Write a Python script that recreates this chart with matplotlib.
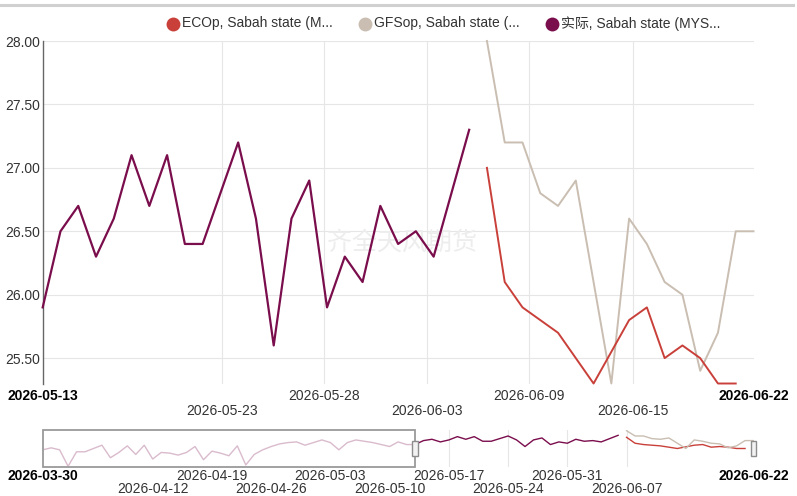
"""Sabah state palm-oil chart: actual vs ECOp / GFSop forecasts, with navigator strip."""
import matplotlib
matplotlib.use("Agg")
import matplotlib.pyplot as plt
from matplotlib.lines import Line2D
from matplotlib.patches import Rectangle
import numpy as np

plt.rcParams["font.family"] = ["Liberation Sans", "Noto Sans CJK SC", "DejaVu Sans"]

# ── data ─────────────────────────────────────────────────────────────────────
# daily values, navigator starts 2026-03-30 (day 0); main view is day 44..84
nav_start = "2026-03-30"
view_start_day = 44
view_days = 40

actual = [25.1, 25.4, 25.1, 22.6, 24.8, 24.8, 25.3, 25.8, 23.9, 24.7,
          25.7, 24.4, 25.8, 23.7, 24.7, 24.6, 24.3, 24.7, 25.6, 23.6,
          24.9, 24.6, 24.2, 25.7, 22.8, 24.4, 25.1, 25.6, 26.0, 26.2,
          26.3, 25.8, 26.2, 26.6, 26.2, 25.1, 26.2, 26.6, 26.4, 26.2,
          25.9, 25.6, 26.3, 25.9,
          # 2026-05-13 .. 2026-06-06
          25.9, 26.5, 26.7, 26.3, 26.6, 27.1, 26.7, 27.1, 26.4, 26.4,
          26.8, 27.2, 26.6, 25.6, 26.6, 26.9, 25.9, 26.3, 26.1, 26.7,
          26.4, 26.5, 26.3, 26.8, 27.3]
# forecasts start 2026-06-07 (day 69)
fc_start_day = 69
ecop = [27.0, 26.1, 25.9, 25.8, 25.7, 25.5, 25.3, 25.55, 25.8, 25.9,
        25.5, 25.6, 25.5, 25.3, 25.3]
gfsop = [28.0, 27.2, 27.2, 26.8, 26.7, 26.9, 26.1, 25.3, 26.6, 26.4,
         26.1, 26.0, 25.4, 25.7, 26.5, 26.5]

series_names = ["ECOp, Sabah state (M...", "GFSop, Sabah state (...",
                "实际, Sabah state (MYS..."]
series_colors = ["#c9403a", "#c9beb1", "#7a0d4c"]

y_ticks = [25.5, 26.0, 26.5, 27.0, 27.5, 28.0]
y_range = (25.3, 28.0)

# main x labels (bold ones sit at the view edges); Highcharts ordinal spacing
main_tick_labels = ["2026-05-23", "2026-05-28", "2026-06-03", "2026-06-09", "2026-06-15"]
main_tick_pos = [10.07, 15.85, 21.63, 27.39, 33.2]
main_edge_labels = ["2026-05-13", "2026-06-22"]

nav_tick_labels = ["2026-04-12", "2026-04-19", "2026-04-26", "2026-05-03", "2026-05-10",
                   "2026-05-17", "2026-05-24", "2026-05-31", "2026-06-07"]
nav_tick_days = [13, 20, 27, 34, 41, 48, 55, 62, 69]
nav_edge_labels = ["2026-03-30", "2026-06-22"]

W, H = 797, 496
fig = plt.figure(figsize=(W / 100, H / 100), dpi=100)
fig.patch.set_facecolor("white")


def px_rect(x0, y0, x1, y1):
    return [x0 / W, 1 - y1 / H, (x1 - x0) / W, (y1 - y0) / H]


act = np.array(actual)
days_act = np.arange(len(act))
days_ec = fc_start_day + np.arange(len(ecop))
days_gfs = fc_start_day + np.arange(len(gfsop))

# ── main panel ──────────────────────────────────────────────────────────────
ax = fig.add_axes(px_rect(42.7, 41, 753.5, 383.5))
ax.set_xlim(0, view_days)
ax.set_ylim(*y_range)
for s in ["top", "right", "bottom"]:
    ax.spines[s].set_visible(False)
ax.spines["left"].set_color("#666666")
ax.spines["left"].set_linewidth(1.0)

ax.set_yticks(y_ticks)
ax.set_yticklabels([f"{v:.2f}" for v in y_ticks], fontsize=10, color="#333333")
ax.tick_params(axis="y", length=0, pad=2)
ax.set_xticks(main_tick_pos)
ax.set_xticklabels([])
ax.tick_params(axis="x", length=0)
ax.grid(True, color="#e6e6e6", lw=0.8)
ax.set_axisbelow(True)

lw = 1.4
ax.plot(days_act[view_start_day:] - view_start_day, act[view_start_day:],
        color=series_colors[2], lw=1.6, clip_on=False, zorder=3)
ax.plot(days_ec - view_start_day, ecop, color=series_colors[0], lw=lw,
        clip_on=False, zorder=3)
ax.plot(days_gfs - view_start_day, gfsop, color=series_colors[1], lw=lw,
        clip_on=False, zorder=2)

ax.text(0.505, 0.41, "齐全天风期货", transform=ax.transAxes, fontsize=18,
        color="#ededed", ha="center", va="center", zorder=1)

xt = ax.get_xaxis_transform()
for i, (pos, lab) in enumerate(zip(main_tick_pos, main_tick_labels)):
    off = -19.8 if i % 2 == 0 else -9.0
    ax.annotate(lab, (pos, 0), xycoords=xt, xytext=(0, off), textcoords="offset points",
                ha="center", va="center", fontsize=10, color="#333333")
for pos, lab in zip([0, view_days], main_edge_labels):
    ax.annotate(lab, (pos, 0), xycoords=xt, xytext=(0, -9.0), textcoords="offset points",
                ha="center", va="center", fontsize=10, color="black", fontweight="bold")

# ── navigator ───────────────────────────────────────────────────────────────
nav_days = days_gfs[-1]
nav = fig.add_axes(px_rect(42.7, 430, 753.5, 467))
all_vals = np.concatenate([act, ecop, gfsop])
span = all_vals.max() - all_vals.min()
nav.set_xlim(0, nav_days)
nav.set_ylim(all_vals.min() - 0.02 * span, all_vals.max() + 0.02 * span)
for s in nav.spines.values():
    s.set_visible(False)
nav.set_yticks([])
nav.set_xticks([])
# grid only shows outside the masked (left) zone
for d in nav_tick_days:
    if d > view_start_day:
        nav.axvline(d, color="#e6e6e6", lw=0.8, zorder=1)

nlw = 1.0
nav.plot(days_act, act, color=series_colors[2], lw=nlw, zorder=2)
nav.plot(days_ec, ecop, color=series_colors[0], lw=nlw, zorder=2)
nav.plot(days_gfs, gfsop, color=series_colors[1], lw=nlw, zorder=2)

bt = nav.get_xaxis_transform()
nav.add_patch(Rectangle((0, 0), view_start_day, 1, transform=bt, facecolor="white",
                        alpha=0.72, edgecolor="none", zorder=3))
nav.add_patch(Rectangle((0, 0), view_start_day, 1, transform=bt, facecolor="none",
                        edgecolor="#9a9a9a", lw=1.3, zorder=4, clip_on=False))
for d in [view_start_day, nav_days]:
    nav.add_patch(Rectangle((d - 0.35, 0.3), 0.7, 0.4, transform=bt, facecolor="#f2f2f2",
                            edgecolor="#8c8c8c", lw=1.0, zorder=5, clip_on=False))

for i, (d, lab) in enumerate(zip(nav_tick_days, nav_tick_labels)):
    off = -15.8 if i % 2 == 0 else -6.5
    nav.annotate(lab, (d, 0), xycoords=bt, xytext=(0, off), textcoords="offset points",
                 ha="center", va="center", fontsize=10, color="#333333")
for d, lab in zip([0, nav_days], nav_edge_labels):
    nav.annotate(lab, (d, 0), xycoords=bt, xytext=(0, -6.5), textcoords="offset points",
                 ha="center", va="center", fontsize=10, color="black", fontweight="bold")

# ── legend (manual, top row) ────────────────────────────────────────────────
legend_x = [173, 365, 552]
for x0, name, c in zip(legend_x, series_names, series_colors):
    fig.add_artist(Line2D([x0 / W], [1 - 23.5 / H], marker="o", markersize=10,
                          color=c, markeredgewidth=0, linestyle="none"))
    fig.text((x0 + 9) / W, 1 - 23.5 / H, name, fontsize=10, color="#333333",
             ha="left", va="center")

# thin container border at very top
fig.add_artist(Line2D([0, 793 / W], [1 - 5 / H] * 2, color="#d0d0d0", lw=2.2))

fig.savefig("out.png", dpi=100, facecolor="white")
